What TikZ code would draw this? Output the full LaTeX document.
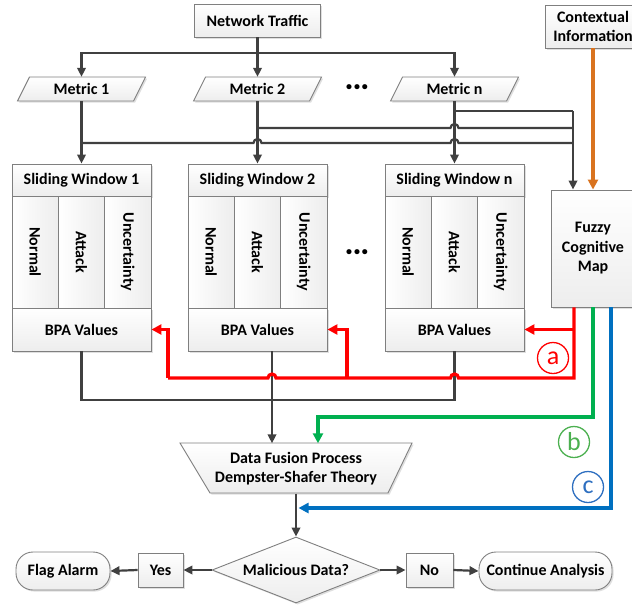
\documentclass[tikz,border=0pt]{standalone}
\usepackage{fontspec}
\setmainfont{Carlito}
\usetikzlibrary{arrows.meta,shapes.geometric,calc,shadows}
\definecolor{lk}{HTML}{404040}
\definecolor{bd}{HTML}{7F7F7F}
\definecolor{ored}{HTML}{FF0000}
\definecolor{ogreen}{HTML}{00B050}
\definecolor{oblue}{HTML}{0070C0}
\definecolor{oorange}{HTML}{D9731F}
\definecolor{lgreen}{HTML}{4CB050}
\definecolor{lblue}{HTML}{2E6FC0}
\tikzset{
  boxsty/.style={draw=bd, line width=0.9pt, top color=white, bottom color=gray!14,
    drop shadow={shadow xshift=1.6pt, shadow yshift=-1.6pt, opacity=0.25}},
  colsty/.style={draw=bd, line width=0.9pt, left color=white, right color=gray!14},
  txt/.style={inner sep=0pt, align=center},
  ln/.style={lk, line width=2.2pt},
  arr/.style={lk, line width=2.2pt, -{Triangle[length=9pt,width=8.5pt]}},
  rl/.style={ored, line width=3.2pt},
  rla/.style={ored, line width=3.2pt, -{Triangle[length=10pt,width=10pt]}},
  gla/.style={ogreen, line width=3.2pt, -{Triangle[length=10pt,width=10pt]}},
  bla/.style={oblue, line width=3.2pt, -{Triangle[length=10pt,width=10pt]}},
  ola/.style={oorange, line width=3.2pt, -{Triangle[length=10pt,width=10pt]}},
  lbl/.style={circle, line width=1.3pt, minimum size=31pt, inner sep=0pt,
    font=\fontsize{26}{26}\selectfont},
  dotsty/.style={inner sep=0pt, font=\fontsize{12}{12}\selectfont\bfseries}
}
\newcommand\slwin[3]{%
  \node[boxsty, txt, minimum width=139pt, minimum height=32pt] (#1t) at (#2,180) {#3};
  \node[colsty, minimum width=46.33pt, minimum height=112pt, inner sep=0pt] (#1n) at ({#2-46.33},252) {};
  \node[colsty, minimum width=46.33pt, minimum height=112pt, inner sep=0pt] (#1a) at (#2,252) {};
  \node[colsty, minimum width=46.33pt, minimum height=112pt, inner sep=0pt] (#1u) at ({#2+46.33},252) {};
  \node[txt, rotate=-90] (#1nt) at (#1n) {Normal};
  \node[txt, rotate=-90] (#1at) at (#1a) {Attack};
  \node[txt, rotate=-90] (#1ut) at (#1u) {Uncertainty};
  \node[boxsty, txt, minimum width=139pt, minimum height=43pt] (#1b) at (#2,329.5) {BPA Values};
}
\newcommand\metricbox[3]{%
  \path[boxsty] ({#2-64},101) -- ({#2+52},101) -- ({#2+64},77) -- ({#2-52},77) -- cycle;
  \node[txt, minimum width=116pt, minimum height=24pt] (#1) at (#2,89) {#3};
}
\begin{document}
\begin{tikzpicture}[x=1pt,y=-1pt, font=\fontsize{16}{19.5}\selectfont\bfseries]
\useasboundingbox (0,0) rectangle (632,606);

% top boxes
\node[boxsty, txt, minimum width=126pt, minimum height=33pt] (nt) at (257.5,20.5) {Network Traffic};
\node[boxsty, txt, minimum width=96pt, minimum height=43pt] (ctx) at (593,26.5) {Contextual\\Information};

% metrics
\metricbox{m1}{81.5}{Metric 1}
\metricbox{m2}{257.5}{Metric 2}
\metricbox{mn}{454.5}{Metric n}
\node[dotsty] (dots1) at (357,88) {•\kern2pt•\kern2pt•};

% sliding windows
\slwin{swa}{81.5}{Sliding Window 1}
\slwin{swb}{257.5}{Sliding Window 2}
\slwin{swc}{454.5}{Sliding Window n}
\node[dotsty] (dots2) at (357,253) {•\kern2pt•\kern2pt•};

% FCM
\node[boxsty, txt, minimum width=84pt, minimum height=117pt] (fcm) at (593,248.5) {Fuzzy\\Cognitive\\Map};

% fusion trapezoid
\path[boxsty] (180,443) -- (412,443) -- (388,493) -- (210,493) -- cycle;
\node[txt, minimum width=232pt, minimum height=50pt] (dfp) at (296,468.5) {Data Fusion Process\\Dempster-Shafer Theory};

% decision
\node[diamond, draw=bd, line width=0.9pt, top color=white, bottom color=gray!14,
  drop shadow={shadow xshift=1.6pt, shadow yshift=-1.6pt, opacity=0.25},
  minimum width=168pt, minimum height=66pt, inner sep=0pt, aspect=2.5] (dia) at (296,570) {};
\node[txt] (diat) at (296,570) {Malicious Data?};
\node[boxsty, txt, minimum width=45pt, minimum height=34pt] (yes) at (160.5,570) {Yes};
\node[boxsty, txt, minimum width=47pt, minimum height=34pt] (no) at (429.5,570) {No};
\node[boxsty, txt, rounded corners=17pt, minimum width=94pt, minimum height=38pt] (fa) at (63,571) {Flag Alarm};
\node[boxsty, txt, rounded corners=17pt, minimum width=133pt, minimum height=38pt] (ca) at (545.5,571) {Continue Analysis};

% top connectors
\coordinate (bus) at (257.5,53);
\draw[ln] (nt.south) -- (bus);
\draw[arr] (bus) -| (m1.north);
\draw[arr] (bus) -| (mn.north);
\draw[arr] (bus) -- (m2.north);

\draw[arr] (m1.south) -- (swat.north);
\draw[arr] (m2.south) -- (swbt.north);
\draw[arr] (mn.south) -- (swct.north);

\coordinate (j1) at (81.5,143);
\coordinate (j2) at (257.5,128);
\coordinate (j3) at (454.5,111);
\coordinate (fin) at (573,111);
\draw[ln] (j3) -- (fin);
\draw[ln] (j2) -- (450.5,128) arc[start angle=180,end angle=0,radius=4pt] -- (573,128);
\draw[ln] (j1) -- (253.5,143) arc[start angle=180,end angle=0,radius=4pt]
  -- (450.5,143) arc[start angle=180,end angle=0,radius=4pt] -- (573,143);
\draw[arr] (fin) -- (fin |- fcm.north);

% orange
\draw[ola] (ctx.south) -- (fcm.north);

% sliding window outputs
\coordinate (g1) at (81.5,400);
\coordinate (g2) at (454.5,400);
\draw[ln] (swab.south) -- (g1) -- (g2) -- (swcb.south);
\coordinate (s2o) at ($(swbb.south)+(14.5,0)$);
\draw[arr] (s2o) -- (s2o |- dfp.north);

% red feedback
\coordinate (ra) at ($(fcm.south)+(-19,0)$);
\coordinate (rc) at (574,378);
\coordinate (rm) at (347,378);
\coordinate (rl) at (168,378);
\draw[rl] (ra) -- (rc) -- (458.5,378) arc[start angle=0,end angle=180,radius=4pt]
  -- (276,378) arc[start angle=0,end angle=180,radius=4pt] -- (rl);
\draw[rla] (rl) -- (rl |- swab.east) -- (swab.east);
\draw[rla] (rm) -- (rm |- swbb.east) -- (swbb.east);
\draw[rla] (ra |- swcb.east) -- (swcb.east);
\node[lbl, draw=ored, text=ored] (la) at (553,358) {a};

% green
\coordinate (gc) at (593,417);
\coordinate (gd) at (318,417);
\draw[gla] (fcm.south) -- (gc) -- (gd) -- (gd |- dfp.north);
\node[lbl, draw=lgreen, text=lgreen] (lb) at (574,442) {b};

% blue
\coordinate (bs) at ($(fcm.south)+(18,0)$);
\coordinate (bc) at (611,508);
\coordinate (be) at (298.5,508);
\draw[bla] (bs) -- (bc) -- (be);
\node[lbl, draw=lblue, text=lblue] (lc) at (588,487) {c};

% decision flow
\draw[arr] (dfp.south) -- (dia.north);
\draw[arr] (dia.west) -- (yes.east);
\draw[arr] (yes.west) -- (fa.east);
\draw[arr] (dia.east) -- (no.west);
\draw[arr] (no.east) -- (ca.west);
\end{tikzpicture}
\end{document}
